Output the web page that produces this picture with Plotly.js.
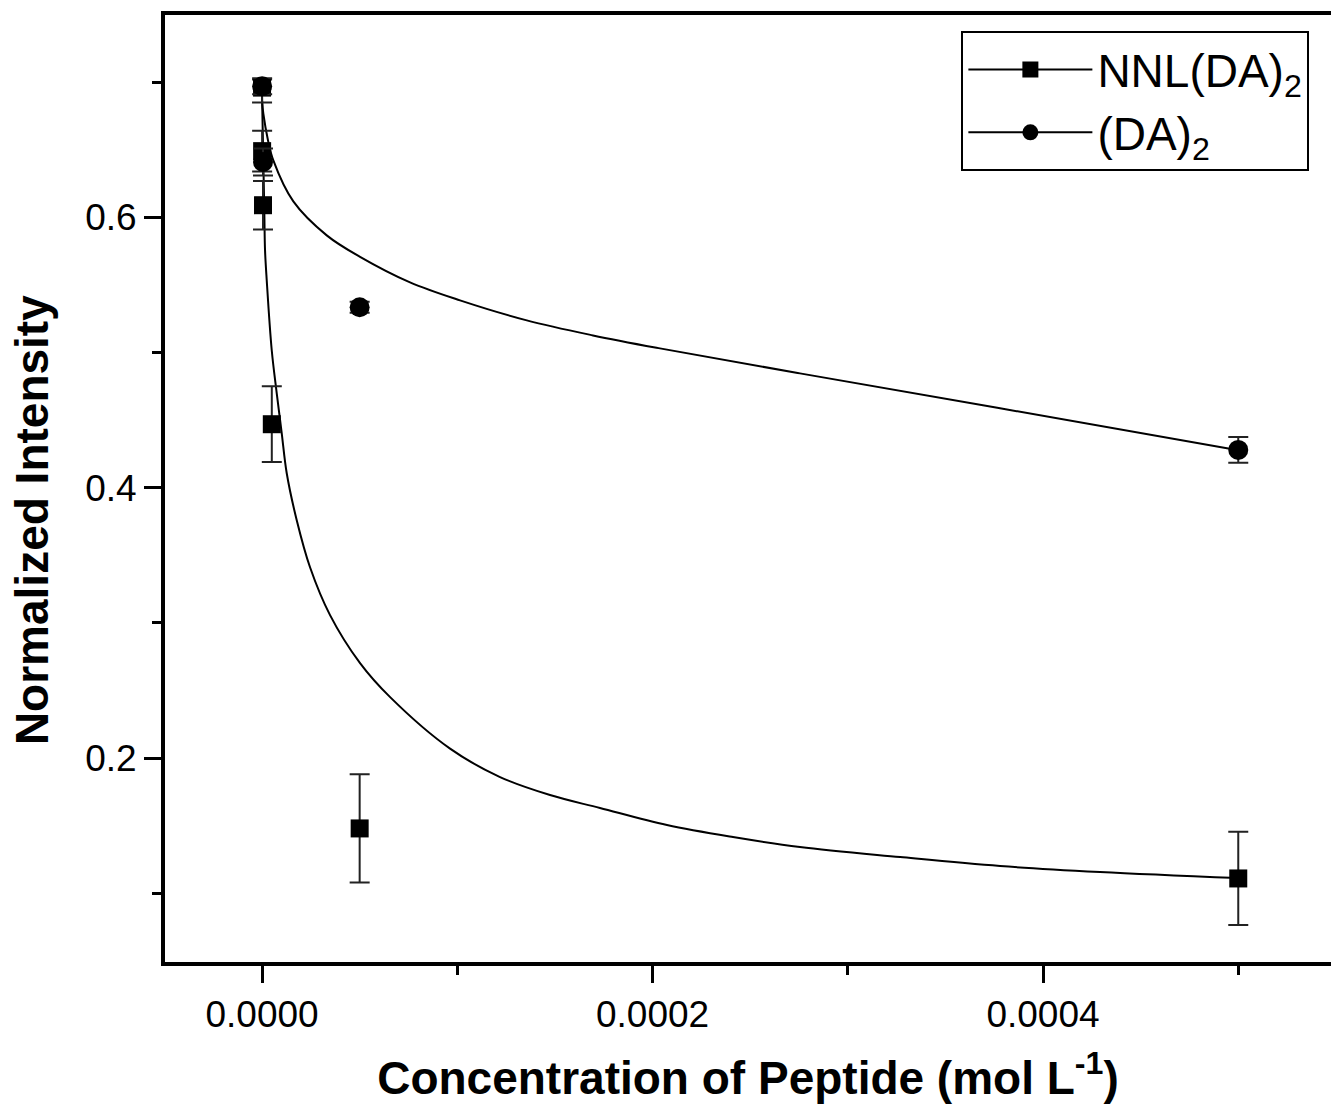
<!DOCTYPE html>
<html>
<head>
<meta charset="utf-8">
<script src="https://cdn.plot.ly/plotly-3.0.1.min.js"></script>
<style>html,body{margin:0;padding:0;background:#fff;}#chart{width:1331px;height:1119px;}</style>
</head>
<body>
<div id="chart"></div>
<script>
// ---- Data ----
const nnlConc     = [5e-9, 5e-8, 5e-7, 5e-6, 5e-5, 5e-4];
const nnlInt      = [0.696, 0.649, 0.609, 0.447, 0.148, 0.111];
const nnlErrPlus  = [0.006, 0.015, 0.018, 0.028, 0.040, 0.0345];
const nnlErrMinus = [0.011, 0.015, 0.018, 0.028, 0.040, 0.0345];

const daConc      = [5e-8, 5e-7, 5e-5, 5e-4];
const daInt       = [0.697, 0.641, 0.5335, 0.428];
const daErr       = [0.006, 0.010, 0.004, 0.0095];

// fitted curves
const nnlFitX = [0, 1.18e-6, 1.54e-6, 2.41e-6, 4.97e-6, 7.53e-6, 1.009e-5, 1.265e-5, 1.777e-5, 2.458e-5, 3.483e-5, 5.02e-5, 6.56e-5, 9.63e-5, 1.219e-4, 1.475e-4, 1.731e-4, 2.074e-4, 2.412e-4, 2.755e-4, 3.268e-4, 3.780e-4, 4.292e-4, 5.0e-4];
const nnlFitY = [0.690, 0.603, 0.5756, 0.5534, 0.5017, 0.4699, 0.4403, 0.4107, 0.3760, 0.3412, 0.3058, 0.2703, 0.2451, 0.2070, 0.1860, 0.1727, 0.1631, 0.1505, 0.1416, 0.1342, 0.1268, 0.1202, 0.1158, 0.1113];

const daFitX = [0, 6.7e-7, 3.07e-6, 5.79e-6, 1.603e-5, 3.314e-5, 5.02e-5, 7.58e-5, 1.014e-4, 1.356e-4, 1.695e-4, 2.038e-4, 2.755e-4, 3.780e-4, 5.0e-4];
const daFitY = [0.6864, 0.6767, 0.6569, 0.6421, 0.6118, 0.5867, 0.5708, 0.5519, 0.5386, 0.5238, 0.5127, 0.5031, 0.4846, 0.4588, 0.4277];

const seriesNames = ['NNL(DA)<sub>2</sub>', '(DA)<sub>2</sub>'];
const xTickVals = [0, 0.0002, 0.0004];
const xTickText = ['0.0000', '0.0002', '0.0004'];
const yTickVals = [0.2, 0.4, 0.6];
const yTickText = ['0.2', '0.4', '0.6'];
const xTitle = '<b>Concentration of Peptide (mol L<sup>-1</sup>)</b>';
const yTitle = '<b>Normalized Intensity</b>';

const FONT = 'Liberation Sans, Arial, sans-serif';
const errStyle = {type: 'data', visible: true, color: '#222', thickness: 2, width: 10};

const traces = [
  {x: nnlFitX, y: nnlFitY, mode: 'lines', line: {color: '#000', width: 2, shape: 'spline', smoothing: 1.0}, showlegend: false, hoverinfo: 'skip'},
  {x: daFitX, y: daFitY, mode: 'lines', line: {color: '#000', width: 2, shape: 'spline', smoothing: 1.0}, showlegend: false, hoverinfo: 'skip'},
  {x: nnlConc, y: nnlInt, mode: 'markers', marker: {symbol: 'square', size: 18, color: '#000'},
   error_y: Object.assign({symmetric: false, array: nnlErrPlus, arrayminus: nnlErrMinus}, errStyle), showlegend: false},
  {x: daConc, y: daInt, mode: 'markers', marker: {symbol: 'circle', size: 20, color: '#000'},
   error_y: Object.assign({array: daErr}, errStyle), showlegend: false},
  // legend entries (no data)
  {x: [null], y: [null], mode: 'lines+markers', name: seriesNames[0], line: {color: '#000', width: 2}, marker: {symbol: 'square', size: 18, color: '#000'}},
  {x: [null], y: [null], mode: 'lines+markers', name: seriesNames[1], line: {color: '#000', width: 2}, marker: {symbol: 'circle', size: 20, color: '#000'}}
];

const layout = {
  width: 1331, height: 1119,
  margin: {l: 165, r: 0, t: 15, b: 157},
  paper_bgcolor: '#fff', plot_bgcolor: '#fff',
  font: {family: FONT, color: '#000', size: 37},
  showlegend: true,
  legend: {
    x: 0.683, y: 0.983, xanchor: 'left', yanchor: 'top',
    bgcolor: '#fff', bordercolor: '#000', borderwidth: 2,
    font: {family: FONT, size: 46, color: '#000'},
    itemwidth: 124, tracegroupgap: 0
  },
  xaxis: {
    range: [-0.0000497, 0.0005475],
    showgrid: false, zeroline: false,
    showline: true, linecolor: '#000', linewidth: 4, mirror: true,
    ticks: 'outside', ticklen: 17, tickwidth: 3, tickcolor: '#000',
    tickvals: xTickVals, ticktext: xTickText,
    tickfont: {family: FONT, size: 37, color: '#000'},
    minor: {dtick: 0.0001, tick0: 0, ticks: 'outside', ticklen: 9, tickwidth: 3, tickcolor: '#000', showgrid: false},
    title: {text: xTitle, font: {family: FONT, size: 46, color: '#000'}, standoff: 28}
  },
  yaxis: {
    range: [0.0492, 0.7497],
    showgrid: false, zeroline: false,
    showline: true, linecolor: '#000', linewidth: 4, mirror: false,
    ticks: 'outside', ticklen: 17, tickwidth: 3, tickcolor: '#000',
    tickvals: yTickVals, ticktext: yTickText,
    tickfont: {family: FONT, size: 37, color: '#000'},
    minor: {dtick: 0.1, tick0: 0, ticks: 'outside', ticklen: 9, tickwidth: 3, tickcolor: '#000', showgrid: false}
  },
  annotations: [{
    text: yTitle, textangle: -90, showarrow: false,
    xref: 'paper', yref: 'paper', x: -0.114, y: 0.4667, xanchor: 'center', yanchor: 'middle',
    font: {family: FONT, size: 46, color: '#000'}
  }]
};

Plotly.newPlot('chart', traces, layout, {staticPlot: true, displayModeBar: false});
</script>
</body>
</html>
